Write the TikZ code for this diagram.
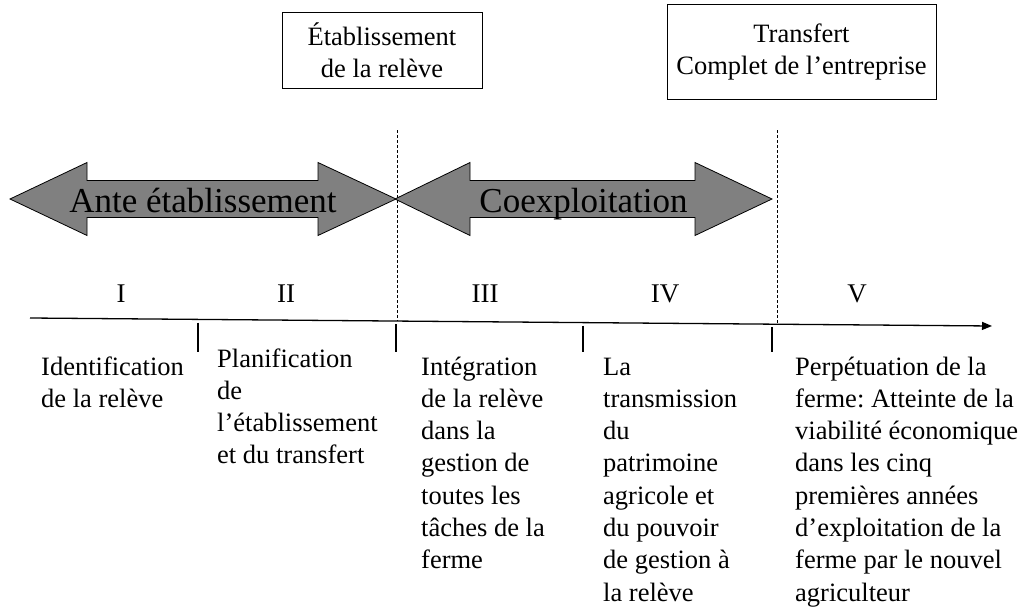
\documentclass[tikz,border=0pt]{standalone}
\usepackage{fontspec}
\setmainfont{Liberation Serif}
\frenchspacing
\usetikzlibrary{arrows.meta}
\begin{document}
\begin{tikzpicture}[x=1pt,y=-1pt,
  milestone/.style={draw=black, line width=0.9pt, fill=white, align=center,
    inner sep=0pt, font=\fontsize{26.5}{32}\selectfont},
  phase/.style={draw=black, line width=0.8pt, fill=black!50, line join=miter},
  phasetext/.style={anchor=base, inner sep=0pt, font=\fontsize{35}{40}\selectfont},
  roman/.style={anchor=base, inner sep=0pt, font=\fontsize{27}{30}\selectfont},
  % the base anchor of a multi-line node sits on its last line
  desc/.style={anchor=base west, align=left, inner sep=0pt,
    font=\fontsize{26.5}{32.3}\selectfont},
  divider/.style={line width=0.8pt, dash pattern=on 3pt off 2pt},
  tick/.style={line width=1.3pt},
  axis/.style={line width=1.3pt, -{Triangle[length=10pt,width=8pt]}}
]
\useasboundingbox (0,0) rectangle (1025,610);

% milestones
\node[milestone, minimum width=200pt, minimum height=76pt] (etab) at (382,50)
  {Établissement\\de la relève};
\node[milestone, minimum width=269pt, minimum height=95pt] (transfert) at (801.5,51.5)
  {Transfert\\Complet de l’entreprise};

% time axis
\coordinate (axs) at (30,318);
\coordinate (axe) at (992,326);
\draw[axis] (axs) -- (axe);

% phase boundaries
\coordinate (d1t) at (397,130);
\coordinate (d1b) at (397,321);
\coordinate (d2t) at (777,130);
\coordinate (d2b) at (777,324.2);
\draw[divider] (d1t) -- (d1b);
\draw[divider] (d2t) -- (d2b);

% phase arrows
\draw[phase] (10,199) -- (87,162.5) -- (87,180.5) -- (318,180.5) -- (318,162.5)
  -- (396,199) -- (318,235.5) -- (318,217.5) -- (87,217.5) -- (87,235.5) -- cycle;
\draw[phase] (395,199) -- (470,162.5) -- (470,180.5) -- (695,180.5) -- (695,162.5)
  -- (772,199) -- (695,235.5) -- (695,217.5) -- (470,217.5) -- (470,235.5) -- cycle;
\node[phasetext] (ante) at (203,212.5) {Ante établissement};
\node[phasetext] (coex) at (583.5,212) {Coexploitation};

% stage numbers
\node[roman] (s1) at (121,302) {I};
\node[roman] (s2) at (286,302) {II};
\node[roman] (s3) at (485,302) {III};
\node[roman] (s4) at (665,302) {IV};
\node[roman] (s5) at (857,302) {V};

% stage ticks
\coordinate (t1a) at (198,322.5); \coordinate (t1b) at (198,352);
\coordinate (t2a) at (396,324);   \coordinate (t2b) at (396,352);
\coordinate (t3a) at (583,325.6); \coordinate (t3b) at (583,352);
\coordinate (t4a) at (772,327.2); \coordinate (t4b) at (772,352);
\draw[tick] (t1a) -- (t1b);
\draw[tick] (t2a) -- (t2b);
\draw[tick] (t3a) -- (t3b);
\draw[tick] (t4a) -- (t4b);

% stage descriptions (positioned by the baseline of their last line)
\node[desc] (d1) at (41,407.3) {Identification\\de la relève};
\node[desc] (d2) at (217,463.9) {Planification\\de\\l’établissement\\et du transfert};
\node[desc] (d3) at (421,568.8) {Intégration\\de la relève\\dans la\\gestion de\\toutes les\\tâches de la\\ferme};
\node[desc] (d4) at (603,601.1) {La\\transmission\\du\\patrimoine\\agricole et\\du pouvoir\\de gestion à\\la relève};
\node[desc] (d5) at (795,601.1) {Perpétuation de la\\ferme: Atteinte de la\\viabilité économique\\dans les cinq\\premières années\\d’exploitation de la\\ferme par le nouvel\\agriculteur};
\end{tikzpicture}
\end{document}
